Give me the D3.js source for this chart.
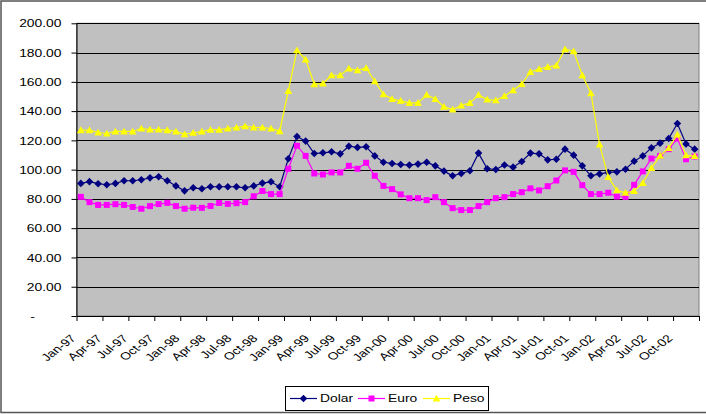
<!DOCTYPE html>
<html>
<head>
<meta charset="utf-8">
<script src="https://cdn.jsdelivr.net/npm/d3@7"></script>
<style>
  html, body { margin: 0; padding: 0; background: #fff; }
  svg { display: block; }
  text { font-family: "Liberation Sans", Arial, sans-serif; fill: #000; }
</style>
</head>
<body>
<svg id="chart" width="706" height="414"></svg>
<script>
// ---- Data ----
const years = ["97", "98", "99", "00", "01", "02"];
const monthNames = ["Jan","Feb","Mar","Apr","May","Jun","Jul","Aug","Sep","Oct","Nov","Dec"];
const categories = years.flatMap(y => monthNames.map(m => m + "-" + y));
const tickLabels = ["Jan-97","Apr-97","Jul-97","Oct-97","Jan-98","Apr-98","Jul-98","Oct-98",
  "Jan-99","Apr-99","Jul-99","Oct-99","Jan-00","Apr-00","Jul-00","Oct-00",
  "Jan-01","Apr-01","Jul-01","Oct-01","Jan-02","Apr-02","Jul-02","Oct-02"];
const yTicks = [0, 20, 40, 60, 80, 100, 120, 140, 160, 180, 200];
const seriesNames = ["Dolar", "Euro", "Peso"];

const dolar = [90.6,91.8,90.4,89.7,90.6,92.4,92.4,93.1,94.4,95.1,92.4,88.9,
  85.5,87.6,86.9,88.3,88.3,88.3,88.3,87.6,88.9,90.8,91.7,88.3,
  107.4,122.6,119.5,111.0,111.5,112.2,110.8,116.0,115.2,115.6,109.4,105.1,
  104.2,103.5,103.1,103.8,105.1,102.6,99.0,95.8,97.4,99.2,111.3,100.6,
  100.1,103.2,101.7,105.6,111.3,110.8,106.7,107.1,114.0,109.9,102.6,95.8,
  97.1,98.1,98.5,100.3,105.8,109.4,114.9,118.1,121.3,131.5,117.6,114.0];
const euro = [81.4,77.8,75.9,75.9,76.4,75.9,74.5,73.3,75.1,76.5,77.3,75.1,
  73.3,74.0,73.9,75.2,77.2,76.6,77.1,77.8,81.8,85.4,83.3,83.3,
  100.6,116.3,109.4,97.4,96.7,98.1,98.1,102.6,100.6,104.7,95.8,88.9,
  86.7,83.1,80.5,80.5,79.2,81.2,77.8,73.7,72.4,72.4,75.1,77.8,
  80.5,81.2,83.3,84.6,87.2,85.8,88.7,92.6,99.5,98.5,89.4,83.3,
  83.3,84.2,81.6,81.4,89.6,98.8,107.6,109.4,114.0,121.2,107.1,109.0];
const peso = [127.0,127.0,125.4,124.7,126.1,126.1,126.1,128.1,127.4,127.4,127.0,126.1,
  124.2,125.2,126.0,127.3,127.3,128.1,128.8,129.7,128.8,128.8,128.1,126.3,
  153.8,181.6,175.2,158.4,158.8,164.5,164.5,169.1,167.9,169.5,160.4,151.5,
  148.3,147.0,145.6,145.6,151.1,148.3,142.9,141.1,143.8,145.6,151.1,147.9,
  147.4,150.3,154.3,158.5,166.8,168.8,170.2,171.1,182.3,180.9,164.5,152.2,
  117.2,94.9,85.9,84.2,85.4,90.9,101.1,109.5,114.8,124.0,109.8,109.3];

const seriesValues = [dolar, euro, peso];
const seriesColors = ["#000080", "#FF00FF", "#FFFF00"];
const markerPaths = [
  "M0,-3.8L3.8,0L0,3.8L-3.8,0Z",      // diamond
  "M-3,-3L3,-3L3,3L-3,3Z",             // square
  "M0,-3.8L3.9,3L-3.9,3Z"              // triangle
];

// ---- Layout ----
const svg = d3.select("#chart");
const L = 76.5, R = 699, T = 23.3, B = 316;
const SX = 1.32; // horizontal text stretch of the original rendering
const FS = 10.5;

// outer frame
svg.append("rect").attr("x", 1).attr("y", 1).attr("width", 712).attr("height", 411.5)
  .attr("fill", "#fff").attr("stroke", "#555").attr("stroke-width", 1.5);

const x = d3.scaleBand().domain(categories).range([L, R]).padding(0);
const xEdge = d3.scaleLinear().domain([0, categories.length]).range([L, R]);
const y = d3.scaleLinear().domain([0, 200]).range([B, T]);

// plot area
svg.append("rect").attr("x", L).attr("y", T).attr("width", R - L).attr("height", B - T)
  .attr("fill", "#C0C0C0").attr("stroke", "#808080").attr("stroke-width", 1);

// gridlines
svg.append("g").selectAll("line").data(yTicks.filter(v => v > 0)).join("line")
  .attr("x1", L).attr("x2", R)
  .attr("y1", d => Math.round(y(d)) + 0.5).attr("y2", d => Math.round(y(d)) + 0.5)
  .attr("stroke", "#000").attr("stroke-width", 1);

// y axis
const yAxis = svg.append("g").attr("transform", `translate(${L},0)`)
  .call(d3.axisLeft(y).tickValues(yTicks).tickSize(5).tickSizeOuter(0)
    .tickFormat(d => d === 0 ? "-" : d3.format(".2f")(d)));
yAxis.select(".domain").attr("stroke", "#000");
yAxis.selectAll(".tick line").attr("stroke", "#000");
yAxis.selectAll(".tick text")
  .attr("x", 0).attr("dy", "0.35em")
  .style("font-size", FS + "px")
  .style("font-family", '"Liberation Sans", Arial, sans-serif')
  .attr("text-anchor", d => d === 0 ? "middle" : "end")
  .attr("transform", d => d === 0 ? `translate(-44,0) scale(${SX},1)` : `translate(-15,0) scale(${SX},1)`);

// x axis (ticks every 3 categories at category boundaries)
const xAxis = svg.append("g").attr("transform", `translate(0,${B})`)
  .call(d3.axisBottom(xEdge).tickValues(d3.range(0, categories.length + 1, 3))
    .tickSize(5).tickSizeOuter(0).tickFormat(""));
xAxis.select(".domain").attr("stroke", "#000");
xAxis.selectAll(".tick line").attr("stroke", "#000");

// x labels
svg.append("g").selectAll("text").data(tickLabels).join("text")
  .attr("transform", d => {
    const cx = x(d) + x.bandwidth() / 2;
    return `translate(${cx - 4},${B + 23}) scale(${SX},1) rotate(-45)`;
  })
  .attr("text-anchor", "end")
  .style("font-size", FS + "px")
  .text(d => d);

// series
const line = d3.line().x((d, i) => x(categories[i]) + x.bandwidth() / 2).y(d => y(d));
seriesValues.forEach((vals, s) => {
  const g = svg.append("g");
  g.append("path").datum(vals).attr("d", line)
    .attr("fill", "none").attr("stroke", seriesColors[s]).attr("stroke-width", 1.2);
  g.selectAll("path.m").data(vals).join("path").attr("class", "m")
    .attr("transform", (d, i) => `translate(${x(categories[i]) + x.bandwidth() / 2},${y(d)})`)
    .attr("d", markerPaths[s])
    .attr("fill", seriesColors[s]);
});

// legend
const lg = svg.append("g");
lg.append("rect").attr("x", 285.5).attr("y", 386.5).attr("width", 203).attr("height", 24)
  .attr("fill", "#fff").attr("stroke", "#000").attr("stroke-width", 1);
const legX = [290, 358, 423];
const ly = 398.5;
seriesNames.forEach((name, s) => {
  const x0 = legX[s];
  lg.append("line").attr("x1", x0).attr("x2", x0 + 27).attr("y1", ly).attr("y2", ly)
    .attr("stroke", seriesColors[s]).attr("stroke-width", 1.2);
  lg.append("path").attr("transform", `translate(${x0 + 13.5},${ly})`)
    .attr("d", markerPaths[s])
    .attr("fill", seriesColors[s]);
  lg.append("text").attr("transform", `translate(${x0 + 30},${ly}) scale(${SX},1)`)
    .attr("dy", "0.35em").style("font-size", FS + "px").text(name);
});
</script>
</body>
</html>
